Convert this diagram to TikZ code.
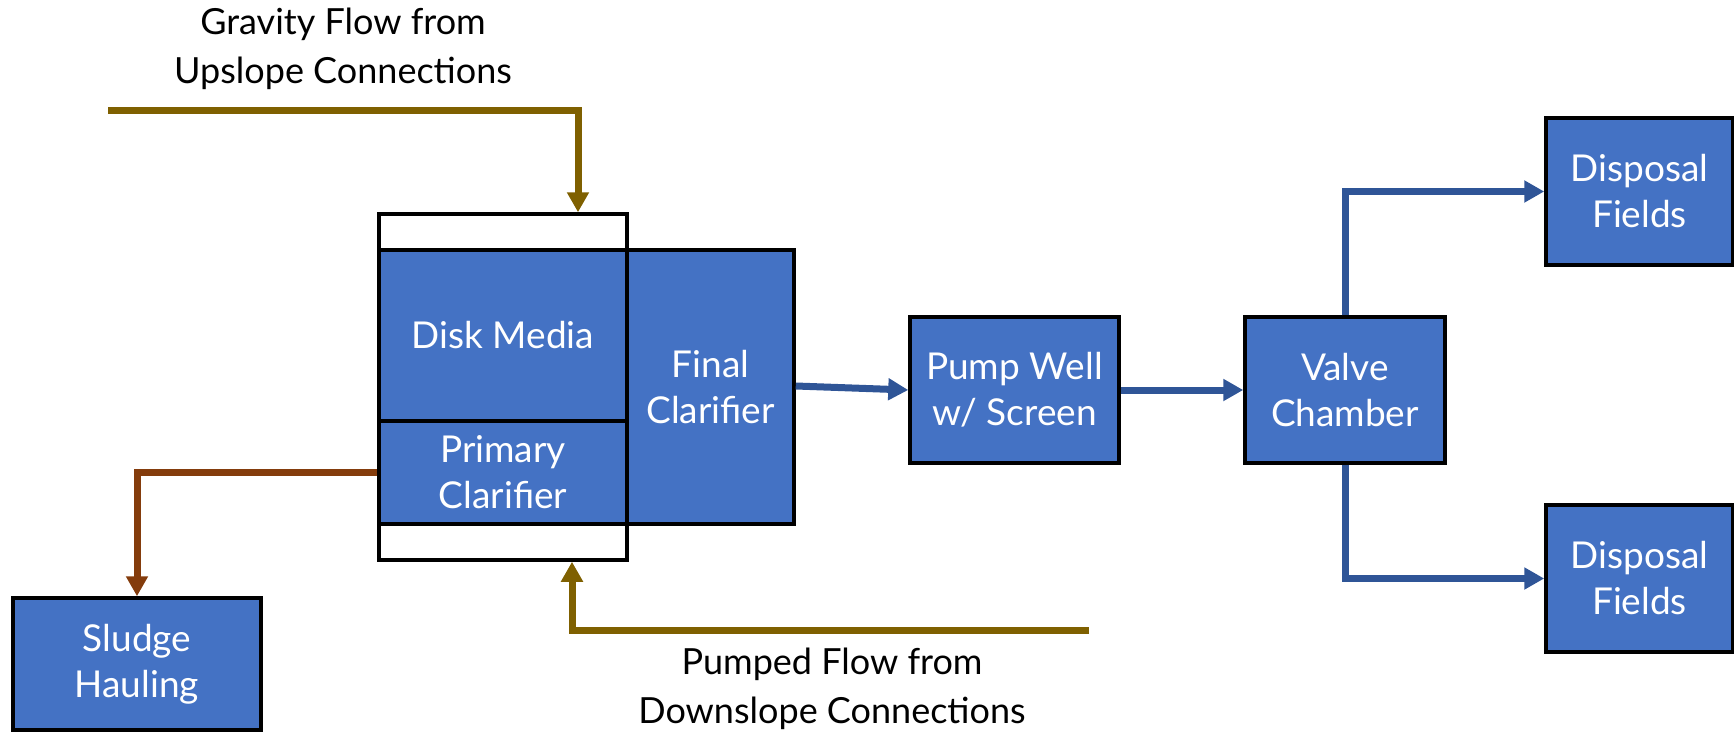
\documentclass[tikz,border=0pt]{standalone}
\usepackage{fontspec}
\setmainfont{Lato}
\usetikzlibrary{arrows.meta}
\definecolor{boxblue}{HTML}{4472C4}
\definecolor{flowblue}{HTML}{2F5597}
\definecolor{gravgold}{HTML}{7F6000}
\definecolor{sludgebrown}{HTML}{843C0C}
\tikzset{
  unit/.style={draw=black, line width=3.5pt, fill=boxblue, text=white,
    font=\fontsize{37}{46}\selectfont, align=center, inner sep=0pt},
  shell/.style={draw=black, line width=3.5pt, fill=white, inner sep=0pt},
  label/.style={text=black, font=\fontsize{36}{49}\selectfont, align=center, inner sep=0pt},
  flow/.style={line width=7pt, -{Triangle[length=20pt,width=21pt]}},
}
\begin{document}
\begin{tikzpicture}[x=1pt, y=-1pt]
  \useasboundingbox (0,0) rectangle (1734,733);

  % treatment tank
  \node[shell, minimum width=248pt, minimum height=346pt] (tank) at (503,387) {};
  \node[unit, minimum width=248pt, minimum height=171pt] (disk) at (503,335.5) {Disk Media};
  \node[unit, minimum width=248pt, minimum height=103pt] (prim) at (503,472.5) {Primary\\Clarifier};
  \node[unit, minimum width=167pt, minimum height=274pt] (final) at (710.5,387) {Final\\Clarifier};

  % downstream units
  \node[unit, minimum width=209pt, minimum height=146pt] (pump) at (1014.5,390) {Pump Well\\w/ Screen};
  \node[unit, minimum width=200pt, minimum height=146pt] (valve) at (1345,390) {Valve\\Chamber};
  \node[unit, minimum width=187pt, minimum height=147pt] (disp1) at (1639.5,191.5) {Disposal\\Fields};
  \node[unit, minimum width=187pt, minimum height=147pt] (disp2) at (1639.5,578.5) {Disposal\\Fields};
  \node[unit, minimum width=248pt, minimum height=132pt] (sludge) at (137,664) {Sludge\\Hauling};

  % inflow labels
  \node[label] (gravlbl) at (343,49) {Gravity Flow from\\Upslope Connections};
  \node[label] (pumplbl) at (832,689) {Pumped Flow from\\Downslope Connections};

  % inflow connectors
  \coordinate (gsrc) at (108,111);
  \coordinate (psrc) at (1089,630);
  \draw[flow, draw=gravgold] (gsrc) -| ([xshift=75pt]tank.north);
  \draw[flow, draw=gravgold] (psrc) -| ([xshift=69pt]tank.south);

  % sludge removal
  \draw[flow, draw=sludgebrown] (prim.west) -| (sludge.north);

  % effluent path
  \draw[flow, draw=flowblue] ([yshift=1pt]final.east) -- (pump.west);
  \draw[flow, draw=flowblue] (pump.east) -- (valve.west);
  \draw[flow, draw=flowblue] (valve.north) |- (disp1.west);
  \draw[flow, draw=flowblue] (valve.south) |- (disp2.west);
\end{tikzpicture}
\end{document}
